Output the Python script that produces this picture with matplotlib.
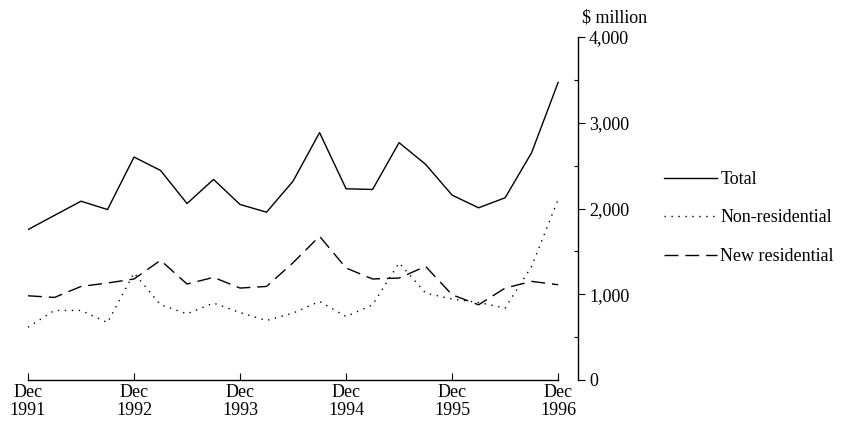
"""Quarterly building approvals, Dec 1991 - Dec 1996 ($ million)"""
import matplotlib
matplotlib.use("Agg")
import matplotlib.pyplot as plt
from matplotlib.ticker import MultipleLocator, FuncFormatter

# 数据 (季度, Dec 1991 → Dec 1996)
quarters = list(range(21))
total = [1754, 1920, 2085, 1988, 2600, 2444, 2058, 2339, 2047, 1957,
         2319, 2885, 2230, 2222, 2768, 2515, 2156, 2008, 2125, 2651, 3470]
non_residential = [616, 811, 811, 670, 1248, 877, 772, 897, 787, 694,
                   780, 916, 740, 877, 1365, 1014, 944, 904, 839, 1325, 2105]
new_residential = [982, 963, 1091, 1131, 1178, 1396, 1119, 1197, 1072, 1091,
                   1368, 1676, 1306, 1178, 1189, 1325, 994, 877, 1072, 1150, 1111]
year_ticks = [0, 4, 8, 12, 16, 20]
year_labels = ["Dec\n1991", "Dec\n1992", "Dec\n1993", "Dec\n1994", "Dec\n1995", "Dec\n1996"]

plt.rcParams["font.family"] = ["Liberation Serif", "DejaVu Serif"]
FS = 13

fig = plt.figure(figsize=(8.42, 4.30), dpi=100)
ax = fig.add_axes([28 / 842, 1 - 380 / 430, 550 / 842, 343 / 430])

ax.plot(quarters, total, "-", color="black", lw=1.0, label="Total")
ax.plot(quarters, non_residential, color="black", lw=1.0, ls=(0, (1, 4)),
        label="Non-residential")
ax.plot(quarters, new_residential, color="black", lw=1.0, ls=(0, (10, 5)),
        label="New residential")

ax.set_xlim(0, 20.75)
ax.set_ylim(0, 4000)

# 轴线: 底部只覆盖数据范围, y 轴在右侧
for s in ("top", "left"):
    ax.spines[s].set_visible(False)
ax.spines["bottom"].set_bounds(0, 20)
ax.spines["bottom"].set_linewidth(1.0)
ax.spines["right"].set_linewidth(1.0)

ax.set_xticks(year_ticks)
ax.set_xticklabels(year_labels, fontsize=FS, linespacing=1.05)
ax.tick_params(axis="x", direction="in", length=5, width=0.8, pad=3)

ax.yaxis.tick_right()
ax.yaxis.set_major_locator(MultipleLocator(1000))
ax.yaxis.set_minor_locator(MultipleLocator(500))
ax.yaxis.set_major_formatter(FuncFormatter(lambda v, p: f"{int(v):,}"))
ax.tick_params(axis="y", which="major", direction="out", length=5, width=0.8,
               labelsize=FS, pad=3)
ax.tick_params(axis="y", which="minor", direction="in", length=3, width=0.8)

ax.text(1.007, 1.03, "$ million", transform=ax.transAxes, fontsize=FS,
        ha="left", va="bottom")

fig.legend(frameon=False, loc="center left",
           bbox_to_anchor=(648 / 842, 1 - 218 / 430),
           handlelength=2.9, labelspacing=1.2, fontsize=FS, handletextpad=0.2)

fig.savefig("out.png", dpi=100)
